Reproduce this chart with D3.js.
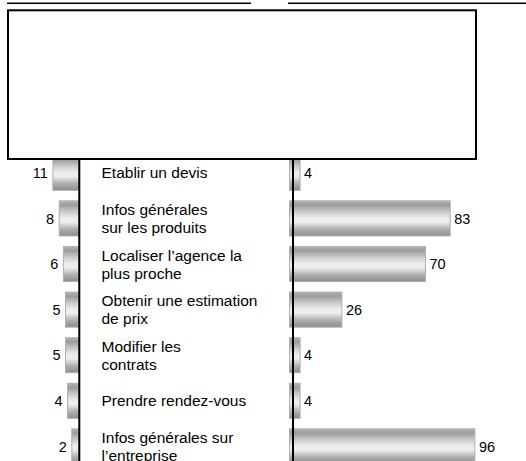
<!DOCTYPE html>
<html lang="fr">
<head>
<meta charset="utf-8">
<style>
  body { margin: 0; background: #fff; }
  svg text { font-family: "Liberation Sans", Arial, sans-serif; fill: #000; }
</style>
<script src="https://cdn.jsdelivr.net/npm/d3@7"></script>
</head>
<body>
<script>
// data
const categories = [
  "Etablir un devis",
  "Infos générales\nsur les produits",
  "Localiser l’agence la\nplus proche",
  "Obtenir une estimation\nde prix",
  "Modifier les\ncontrats",
  "Prendre rendez-vous",
  "Infos générales sur\nl’entreprise"
];
const leftValues = [11, 8, 6, 5, 5, 4, 2];
const rightValues = [4, 83, 70, 26, 4, 4, 96];

const w = 526, h = 461;
const rows = categories.map((c, i) => ({ cat: c, left: leftValues[i], right: rightValues[i] }));

const svg = d3.select("body").append("svg")
  .attr("width", w)
  .attr("height", h);

// gradient for the bars (light band in the middle)
const grad = svg.append("defs").append("linearGradient")
  .attr("id", "barGrad")
  .attr("x1", "0%").attr("x2", "0%")
  .attr("y1", "0%").attr("y2", "100%");
[[0, "#b4b4b4"], [0.12, "#9c9c9c"], [0.3, "#c8c8c8"], [0.48, "#ececec"], [0.6, "#eeeeee"], [0.8, "#b0b0b0"], [1, "#8c8c8c"]]
  .forEach(s => grad.append("stop").attr("offset", s[0]).attr("stop-color", s[1]));

const y = d3.scaleBand()
  .domain(categories)
  .range([150, 469.2])
  .paddingInner(0.23)
  .paddingOuter(0.115);

const xR = d3.scaleLinear().domain([0, 100]).range([292.5, 482.5]);
const xL = d3.scaleLinear().domain([0, 10]).range([76, 55]);
const leftAxisX = 79.3, rightAxisX = 293;
const boxBottom = 159;

// left bars (growing to the left)
svg.selectAll("rect.lbar")
  .data(rows)
  .enter()
  .append("rect")
  .attr("class", "lbar")
  .attr("x", d => xL(d.left))
  .attr("y", d => y(d.cat))
  .attr("width", d => xL(0) + 3 - xL(d.left))
  .attr("height", y.bandwidth())
  .attr("fill", "url(#barGrad)")
  .attr("stroke", "#b0b0b0")
  .attr("stroke-width", 1);

// right bars
svg.selectAll("rect.rbar")
  .data(rows)
  .enter()
  .append("rect")
  .attr("class", "rbar")
  .attr("x", xR(0) - 3)
  .attr("y", d => y(d.cat))
  .attr("width", d => xR(d.right) - xR(0) + 3)
  .attr("height", y.bandwidth())
  .attr("fill", "url(#barGrad)")
  .attr("stroke", "#b0b0b0")
  .attr("stroke-width", 1);

// axis lines
svg.append("line")
  .attr("x1", leftAxisX).attr("x2", leftAxisX)
  .attr("y1", boxBottom).attr("y2", h)
  .attr("stroke", "#000").attr("stroke-width", 2);
svg.append("line")
  .attr("x1", rightAxisX).attr("x2", rightAxisX)
  .attr("y1", boxBottom).attr("y2", h)
  .attr("stroke", "#000").attr("stroke-width", 2);

// value labels
svg.selectAll("text.lval")
  .data(rows)
  .enter()
  .append("text")
  .attr("class", "lval")
  .attr("x", d => xL(d.left) - 5)
  .attr("y", d => y(d.cat) + y.bandwidth() / 2)
  .attr("dy", "0.36em")
  .attr("text-anchor", "end")
  .attr("font-size", "14.5px")
  .text(d => d.left);

svg.selectAll("text.rval")
  .data(rows)
  .enter()
  .append("text")
  .attr("class", "rval")
  .attr("x", d => xR(d.right) + 4)
  .attr("y", d => y(d.cat) + y.bandwidth() / 2)
  .attr("dy", "0.36em")
  .attr("font-size", "14.5px")
  .text(d => d.right);

// category labels, multi-line, centred on the bar
const lineH = 18;
svg.selectAll("text.cat")
  .data(rows)
  .enter()
  .append("text")
  .attr("class", "cat")
  .attr("font-size", "15.5px")
  .each(function(d) {
    const lines = d.cat.split("\n");
    const cy = y(d.cat) + y.bandwidth() / 2;
    const t = d3.select(this);
    lines.forEach((ln, i) => {
      t.append("tspan")
        .attr("x", 101.5)
        .attr("y", cy + (i - (lines.length - 1) / 2) * lineH)
        .attr("dy", "0.36em")
        .text(ln);
    });
  });

// top rules
svg.append("line")
  .attr("x1", 7).attr("x2", 251)
  .attr("y1", 3.3).attr("y2", 3.3)
  .attr("stroke", "#000").attr("stroke-width", 1.5);
svg.append("line")
  .attr("x1", 288).attr("x2", w)
  .attr("y1", 3.3).attr("y2", 3.3)
  .attr("stroke", "#000").attr("stroke-width", 1.5);

// white box over the top of the chart
svg.append("rect")
  .attr("x", 8)
  .attr("y", 10.3)
  .attr("width", 468)
  .attr("height", boxBottom - 10.3)
  .attr("fill", "#fff")
  .attr("stroke", "#000")
  .attr("stroke-width", 2);
</script>
</body>
</html>
